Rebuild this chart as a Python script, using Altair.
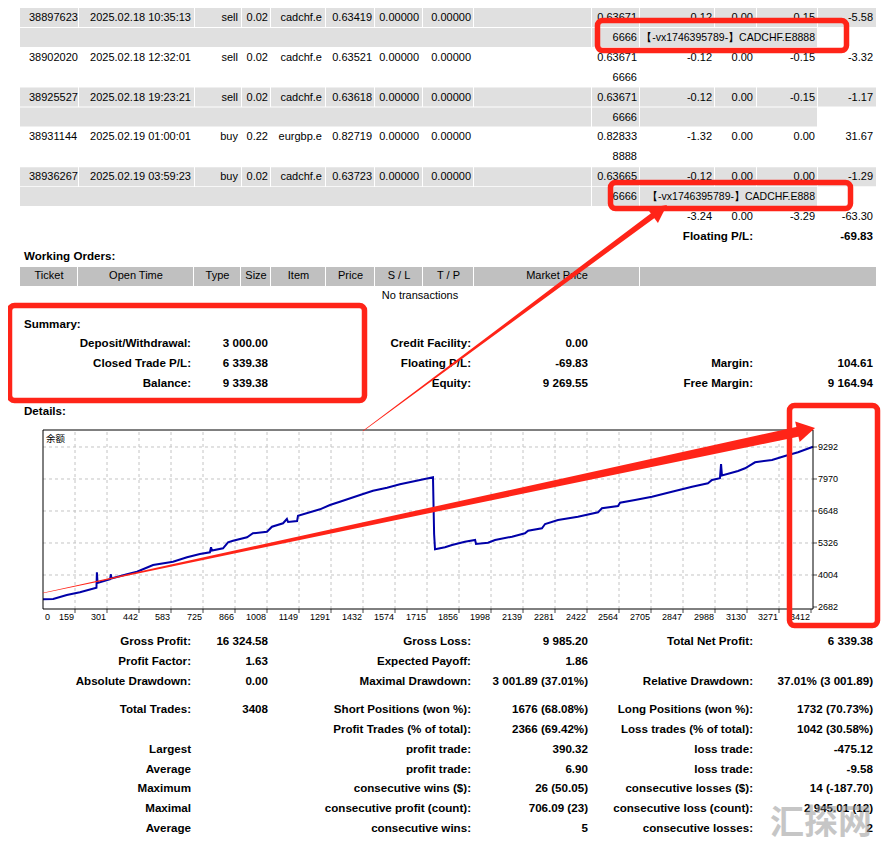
import math
import altair as alt
import pandas as pd

RED = "#ff2418"
BLUE = "#0000a8"
FONT = "Liberation Sans"
CJK = "Noto Sans CJK SC"
W, H = 874, 833

# ---------------- data ----------------
trade_tickets = ["38897623", "38902020", "38925527", "38931144", "38936267"]
trade_open_times = ["2025.02.18 10:35:13", "2025.02.18 12:32:01", "2025.02.18 19:23:21",
                    "2025.02.19 01:00:01", "2025.02.19 03:59:23"]
trade_types = ["sell", "sell", "sell", "buy", "buy"]
trade_sizes = ["0.02", "0.02", "0.02", "0.22", "0.02"]
trade_items = ["cadchf.e", "cadchf.e", "cadchf.e", "eurgbp.e", "cadchf.e"]
trade_prices = ["0.63419", "0.63521", "0.63618", "0.82719", "0.63723"]
trade_sl = ["0.00000", "0.00000", "0.00000", "0.00000", "0.00000"]
trade_tp = ["0.00000", "0.00000", "0.00000", "0.00000", "0.00000"]
trade_close_prices = ["0.63671", "0.63671", "0.63671", "0.82833", "0.63665"]
trade_commission = ["-0.12", "-0.12", "-0.12", "-1.32", "-0.12"]
trade_taxes = ["0.00", "0.00", "0.00", "0.00", "0.00"]
trade_swap = ["-0.15", "-0.15", "-0.15", "0.00", "0.00"]
trade_profit = ["-5.58", "-3.32", "-1.17", "31.67", "-1.29"]
trade_magic = ["6666", "6666", "6666", "8888", "6666"]
trade_comments = ["【-vx1746395789-】CADCHF.E8888", "", "", "", "【-vx1746395789-】CADCHF.E888"]
totals = ["-3.24", "0.00", "-3.29", "-63.30"]
floating_label = "Floating P/L:"
floating_value = "-69.83"

wo_title = "Working Orders:"
wo_headers = ["Ticket", "Open Time", "Type", "Size", "Item", "Price", "S / L", "T / P", "Market Price", ""]
wo_empty = "No transactions"

summary_title = "Summary:"
sum_labels_1 = ["Deposit/Withdrawal:", "Closed Trade P/L:", "Balance:"]
sum_values_1 = ["3 000.00", "6 339.38", "9 339.38"]
sum_labels_2 = ["Credit Facility:", "Floating P/L:", "Equity:"]
sum_values_2 = ["0.00", "-69.83", "9 269.55"]
sum_labels_3 = ["", "Margin:", "Free Margin:"]
sum_values_3 = ["", "104.61", "9 164.94"]
details_title = "Details:"

st_labels_1 = ["Gross Profit:", "Profit Factor:", "Absolute Drawdown:", "Total Trades:", "",
               "Largest", "Average", "Maximum", "Maximal", "Average"]
st_values_1 = ["16 324.58", "1.63", "0.00", "3408", "", "", "", "", "", ""]
st_labels_2 = ["Gross Loss:", "Expected Payoff:", "Maximal Drawdown:", "Short Positions (won %):",
               "Profit Trades (% of total):", "profit trade:", "profit trade:",
               "consecutive wins ($):", "consecutive profit (count):", "consecutive wins:"]
st_values_2 = ["9 985.20", "1.86", "3 001.89 (37.01%)", "1676 (68.08%)", "2366 (69.42%)",
               "390.32", "6.90", "26 (50.05)", "706.09 (23)", "5"]
st_labels_3 = ["Total Net Profit:", "", "Relative Drawdown:", "Long Positions (won %):",
               "Loss trades (% of total):", "loss trade:", "loss trade:",
               "consecutive losses ($):", "consecutive loss (count):", "consecutive losses:"]
st_values_3 = ["6 339.38", "", "37.01% (3 001.89)", "1732 (70.73%)", "1042 (30.58%)",
               "-475.12", "-9.58", "14 (-187.70)", "2 945.01 (12)", "2"]
watermark = "汇探网"

chart_title = "余额"
trade_no = [0, 45, 105, 163, 236, 238, 241, 296, 300, 302, 371, 415, 486, 574, 636,
            693, 737, 742, 746, 795, 817, 839, 901, 927, 989, 1011, 1060, 1077, 1082, 1122,
            1126, 1223, 1267, 1311, 1400, 1457, 1519, 1576, 1665, 1722, 1727, 1731, 1775, 1806, 1863,
            1908, 1912, 1965, 1996, 2071, 2128, 2142, 2203, 2217, 2274, 2362, 2451, 2468, 2539, 2548,
            2614, 2689, 2777, 2866, 2936, 2954, 2989, 2994, 2998, 3069, 3100, 3144, 3219, 3276, 3334,
            3400]
balance = [3000, 3012, 3178, 3289, 3479, 4115, 3673, 3826, 4033, 3860, 4033, 4140, 4417, 4553, 4735,
           4871, 4942, 5148, 5016, 5107, 5355, 5421, 5561, 5727, 5793, 6000, 6140, 6317, 6193, 6235,
           6454, 6718, 6896, 7032, 7309, 7486, 7610, 7751, 7928, 8040, 5698, 5066, 5148, 5243, 5380,
           5450, 5285, 5338, 5450, 5586, 5727, 5834, 5933, 6111, 6276, 6412, 6594, 6759, 6854, 6991,
           7102, 7239, 7445, 7652, 7792, 7928, 7999, 8589, 8114, 8300, 8412, 8660, 8755, 8920, 9073,
           9300]
x_tick_labels = ["0", "159", "301", "442", "583", "725", "866", "1008", "1149", "1291", "1432",
                 "1574", "1715", "1856", "1998", "2139", "2281", "2422", "2564", "2705", "2847",
                 "2988", "3130", "3271", "3412"]
y_tick_values = [9292, 7970, 6648, 5326, 4004, 2682]

# ---------------- layout (screen positions) ----------------
def rc(i):
    return 18 + 19.9 * i

trade_cols_right = [191, 238, 268, 322, 372, 419, 471, 637, 712, 753, 815, 873]
b_trade = [20, 79, 195, 242, 271, 326, 375, 423, 474, 592, 640, 715, 757, 818, 877]
b_comment = [20, 592, 640, 818]
b_head = [20, 78, 194, 241, 271, 326, 375, 423, 474, 640, 877]
sum_rows_y = [344, 364, 384]
st_rows_y = [642, 662, 682, 710, 730, 750, 770, 789, 809, 829]
REG, BOLD, CMT = 11, 11.6, 10.5

LXS = alt.Scale(domain=[8, 8 + W], range=[0, W], nice=False, zero=False)
LYS = alt.Scale(domain=[8, 8 + H], range=[0, H], nice=False, zero=False)
CXS = alt.Scale(domain=[0, 3400], range=[35, 805], nice=False, zero=False)
CYS = alt.Scale(domain=[2599, 9994], range=[601, 422], nice=False, zero=False)


def lx(f="x"):
    return alt.X(f + ":Q", scale=LXS, axis=None)


def ly(f="y"):
    return alt.Y(f + ":Q", scale=LYS, axis=None)


def cx(f="trade"):
    return alt.X(f + ":Q", scale=CXS, axis=None)


def cy(f="bal"):
    return alt.Y(f + ":Q", scale=CYS, axis=None)


# ---- text records ----
T = []


def add(t, x, y, align="right", bold=False, size=None):
    if t:
        if size is None:
            size = BOLD if bold else REG
        T.append(dict(t=t, x=x, y=y, align=align, bold=bool(bold), size=size))


for k in range(5):
    y = rc(2 * k)
    add(trade_tickets[k], 29, y, "left")
    vals = [trade_open_times[k], trade_types[k], trade_sizes[k], trade_items[k], trade_prices[k],
            trade_sl[k], trade_tp[k], trade_close_prices[k], trade_commission[k], trade_taxes[k],
            trade_swap[k], trade_profit[k]]
    for v, xr in zip(vals, trade_cols_right):
        add(v, xr, y)
    y2 = rc(2 * k + 1)
    add(trade_magic[k], 637, y2)
    add(trade_comments[k], 815, y2, size=CMT)
for v, xr in zip(totals, [712, 753, 815, 873]):
    add(v, xr, rc(10))
add(floating_label, 753, rc(11), bold=True)
add(floating_value, 873, rc(11), bold=True)

add(wo_title, 24, 257, "left", True)
for i, h in enumerate(wo_headers):
    add(h, (b_head[i] + b_head[i + 1]) / 2, 276, "center")
add(wo_empty, 420, 296, "center")

add(summary_title, 24, 325, "left", True)
for i, y in enumerate(sum_rows_y):
    for lab, val, (xl, xv) in [(sum_labels_1, sum_values_1, (191, 268)),
                               (sum_labels_2, sum_values_2, (471, 588)),
                               (sum_labels_3, sum_values_3, (753, 873))]:
        add(lab[i], xl, y, bold=True)
        add(val[i], xv, y, bold=True)
add(details_title, 24, 412, "left", True)

for i, y in enumerate(st_rows_y):
    for lab, val, (xl, xv) in [(st_labels_1, st_values_1, (191, 268)),
                               (st_labels_2, st_values_2, (471, 588)),
                               (st_labels_3, st_values_3, (753, 873))]:
        add(lab[i], xl, y, bold=True)
        add(val[i], xv, y, bold=True)

texts = pd.DataFrame(T)

# ---- grey cell rects ----
R = []
for k in (0, 2, 4):
    for row, bounds in ((2 * k, b_trade), (2 * k + 1, b_comment)):
        c = rc(row)
        for a, b in zip(bounds[:-1], bounds[1:]):
            R.append(dict(x=a, x2=b - 1, y=c - 10, y2=c + 9, c="#e0e0e0"))
for a, b in zip(b_head[:-1], b_head[1:]):
    R.append(dict(x=a, x2=b - 1, y=267, y2=286, c="#c0c0c0"))
rects = pd.DataFrame(R)

layers = []
layers.append(alt.Chart(rects).mark_rect().encode(
    x=lx(), x2="x2:Q", y=ly(), y2="y2:Q", color=alt.Color("c:N", scale=None)))

for (al, bd, sz), g in texts.groupby(["align", "bold", "size"]):
    layers.append(alt.Chart(g).mark_text(
        align=al, baseline="middle", font=FONT, fontSize=float(sz),
        fontWeight="bold" if bd else "normal", color="black").encode(x=lx(), y=ly(), text="t:N"))

# ---- balance chart ----
step = 141.3
vg = pd.DataFrame(dict(trade=[i * step for i in range(1, 24)], bal=2599, bal2=9994))
hg = pd.DataFrame(dict(bal=y_tick_values[:5], trade=0, trade2=3400))
layers.append(alt.Chart(vg).mark_rule(color="#c4c4c4", strokeDash=[3, 3], strokeWidth=1).encode(
    x=cx(), y=cy(), y2="bal2:Q"))
layers.append(alt.Chart(hg).mark_rule(color="#c4c4c4", strokeDash=[3, 3], strokeWidth=1).encode(
    x=cx(), x2="trade2:Q", y=cy()))

bal_df = pd.DataFrame(dict(trade=trade_no, bal=balance, o=list(range(len(trade_no)))))
layers.append(alt.Chart(bal_df).mark_line(color=BLUE, strokeWidth=2, strokeJoin="miter").encode(
    x=cx(), y=cy(), order="o:Q"))

frame = pd.DataFrame(dict(trade=[0], trade2=[3400], bal=[2599], bal2=[9994]))
layers.append(alt.Chart(frame).mark_rect(fillOpacity=0, stroke="black", strokeWidth=1).encode(
    x=cx(), x2="trade2:Q", y=cy(), y2="bal2:Q"))

yt = pd.DataFrame(dict(bal=y_tick_values, trade=3400))
layers.append(alt.Chart(yt).mark_tick(orient="horizontal", size=4, thickness=1, color="black",
                                      xOffset=2).encode(x=cx(), y=cy()))
xt = pd.DataFrame(dict(trade=[i * step for i in range(1, 25)], bal=2599))
layers.append(alt.Chart(xt).mark_tick(orient="vertical", size=4, thickness=1, color="black",
                                      yOffset=2).encode(x=cx(), y=cy()))

xl = pd.DataFrame(dict(trade=[i * step for i in range(len(x_tick_labels))], bal=2599,
                       lab=x_tick_labels))
layers.append(alt.Chart(xl.iloc[:1]).mark_text(align="left", baseline="middle", dx=2, dy=8,
                                               font=FONT, fontSize=9, color="black").encode(
    x=cx(), y=cy(), text="lab:N"))
layers.append(alt.Chart(xl.iloc[1:]).mark_text(align="right", baseline="middle", dx=-1, dy=8,
                                               font=FONT, fontSize=9, color="black").encode(
    x=cx(), y=cy(), text="lab:N"))
yl = pd.DataFrame(dict(trade=3400, bal=y_tick_values, lab=[str(v) for v in y_tick_values]))
layers.append(alt.Chart(yl).mark_text(align="left", baseline="middle", dx=5, font=FONT,
                                      fontSize=9, color="black").encode(x=cx(), y=cy(), text="lab:N"))
tl = pd.DataFrame(dict(trade=[0], bal=[9994], lab=[chart_title]))
layers.append(alt.Chart(tl).mark_text(align="left", baseline="middle", dx=3, dy=9, font=CJK,
                                      fontSize=9.5, color="black").encode(x=cx(), y=cy(), text="lab:N"))

# ---- red annotation boxes ----
boxes = pd.DataFrame([
    dict(x=597.5, x2=846.5, y=20.5, y2=50.5),
    dict(x=610.5, x2=850.5, y=182.5, y2=208.5),
    dict(x=9.5, x2=364.5, y=305.5, y2=400.5),
    dict(x=789.5, x2=877.5, y=405.5, y2=625.5),
])
layers.append(alt.Chart(boxes).mark_rect(fillOpacity=0, stroke=RED, strokeWidth=5.5,
                                         cornerRadius=5).encode(
    x=lx(), x2="x2:Q", y=ly(), y2="y2:Q"))

# ---- red arrows ----
arrows = [
    dict(tail=(363, 431), tip=(667, 205), w0=0.6, w1=6, L=18, hw=9),
    dict(tail=(43, 593), tip=(815, 428), w0=0.5, w1=10, L=18, hw=10.5),
]
TR = []
for aid, a in enumerate(arrows):
    (x0, y0), (x1, y1) = a["tail"], a["tip"]
    d = math.hypot(x1 - x0, y1 - y0)
    ux, uy = (x1 - x0) / d, (y1 - y0) / d
    ex, ey = x1 - 0.75 * a["L"] * ux, y1 - 0.75 * a["L"] * uy
    TR.append(dict(x=x0, y=y0, w=a["w0"], o=0, aid=aid))
    TR.append(dict(x=ex, y=ey, w=a["w1"], o=1, aid=aid))
    ang = math.degrees(math.atan2(y1 - y0, x1 - x0)) % 360
    s = a["L"] / 2
    f = a["hw"] / s
    path = f"M1,0L-1,{-f:.3f}L-1,{f:.3f}Z"
    hd = pd.DataFrame([dict(x=x1 - s * ux, y=y1 - s * uy)])
    a["layer"] = alt.Chart(hd).mark_point(shape=path, size=(2 * s) ** 2, filled=True, color=RED,
                                           opacity=1, strokeWidth=0, angle=ang).encode(x=lx(), y=ly())
trails = pd.DataFrame(TR)
layers.append(alt.Chart(trails).mark_trail(color=RED, opacity=1).encode(
    x=lx(), y=ly(), size=alt.Size("w:Q", scale=None, legend=None), order="o:Q", detail="aid:N"))
for a in arrows:
    layers.append(a["layer"])

# ---- watermark ----
wm = pd.DataFrame([dict(x=821, y=824, t=watermark)])
layers.append(alt.Chart(wm).mark_text(align="center", baseline="middle", font=CJK, fontSize=34,
                                      fontWeight="bold", color="#999999", opacity=0.55).encode(
    x=lx(), y=ly(), text="t:N"))

chart = alt.layer(*layers).resolve_scale(x="independent", y="independent").properties(
    width=W, height=H, padding=0, autosize=alt.AutoSizeParams(type="none"), background="white"
).configure_view(stroke=None)

chart.save("out.html", embed_options={"renderer": "svg", "actions": False})
